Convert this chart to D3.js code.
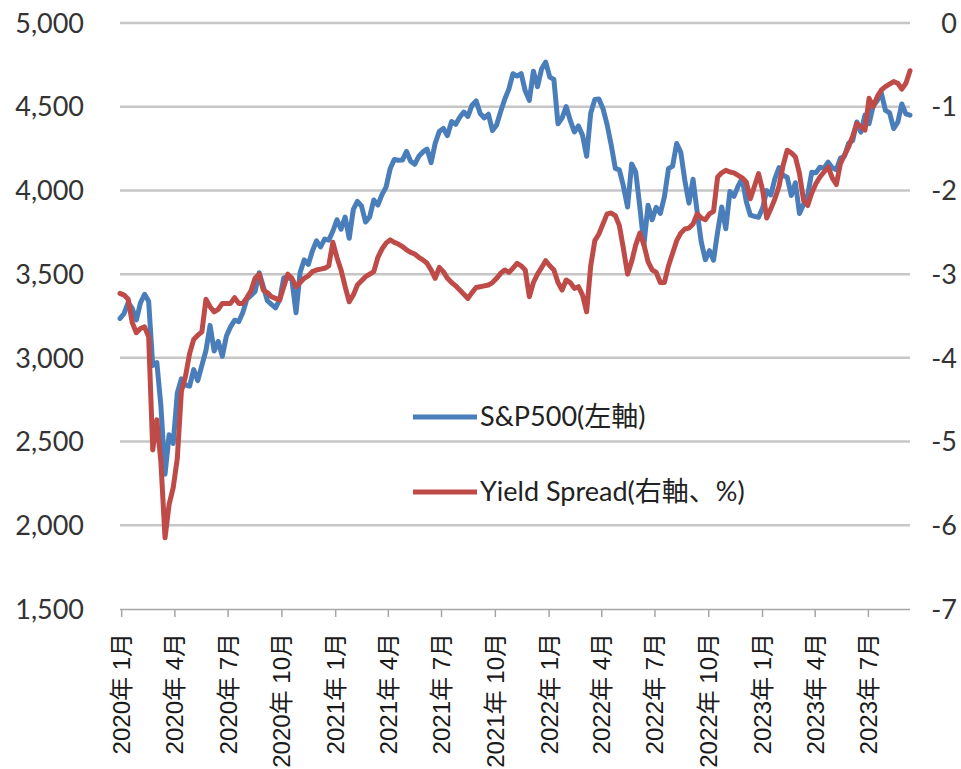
<!DOCTYPE html>
<html><head><meta charset="utf-8">
<script src="https://cdn.jsdelivr.net/npm/d3@7/dist/d3.min.js"></script>
<style>
html,body{margin:0;padding:0;background:#fff;}
svg{display:block;}
</style></head>
<body>
<svg id="chart" width="961" height="769"></svg>
<script>
// Weekly observations (week starting Monday 2019-12-30)
const firstWeek = "2019-12-30";
const sp500 = [
// 2020
3235,3265,3330,3295,3226,3328,3380,3338,2954,2972,2711,2305,2541,2489,2790,2875,2837,2831,2930,2864,
2955,3044,3194,3041,3098,3009,3130,3185,3225,3216,3271,3351,3373,3397,3508,3427,3341,3319,3298,3348,
3477,3484,3465,3270,3510,3585,3558,3638,3699,3663,3709,3703,3756,
// 2021
3825,3768,3841,3714,3887,3934,3907,3811,3842,3943,3913,3975,4020,4129,4185,4180,4181,4233,4174,4156,
4204,4230,4247,4166,4281,4352,4370,4327,4412,4395,4437,4468,4442,4509,4535,4459,4433,4455,4357,4391,
4471,4545,4605,4697,4683,4698,4595,4538,4712,4620,4726,4766,
// 2022
4677,4663,4398,4432,4501,4418,4349,4385,4329,4204,4463,4543,4546,4488,4393,4272,4132,4123,4024,3901,
4158,4109,3901,3675,3912,3825,3899,3863,3962,4130,4145,4280,4228,4058,3924,4067,3873,3693,3586,3640,
3583,3753,3901,3771,3993,3965,4026,4072,3934,3852,3845,3840,
// 2023
3895,3999,3973,4071,4136,4090,4079,3970,4046,3862,3917,3971,4109,4105,4138,4133,4169,4136,4124,4192,
4205,4282,4299,4409,4348,4450,4399,4505,4536,4582,4478,4464,4370,4406,4516,4457,4450
];
const yieldSpread = [
// i0-19
-3.23,-3.25,-3.30,-3.58,-3.70,-3.65,-3.63,-3.75,-5.10,-4.74,-5.25,-6.15,-5.75,-5.55,-5.20,-4.40,-4.22,-3.95,-3.78,-3.73,
// i20-39
-3.69,-3.30,-3.39,-3.45,-3.42,-3.35,-3.35,-3.35,-3.28,-3.35,-3.35,-3.28,-3.20,-3.05,-3.00,-3.19,-3.22,-3.27,-3.29,-3.31,
// i40-59
-3.15,-3.00,-3.05,-3.15,-3.10,-3.05,-3.02,-2.97,-2.95,-2.94,-2.93,-2.90,-2.62,-2.80,-2.95,-3.15,-3.33,-3.25,-3.13,-3.08,
// i60-79
-3.03,-3.00,-2.97,-2.80,-2.70,-2.63,-2.59,-2.62,-2.64,-2.67,-2.71,-2.74,-2.76,-2.80,-2.83,-2.87,-2.95,-3.05,-2.92,-2.97,
// i80-99
-3.05,-3.10,-3.14,-3.19,-3.24,-3.29,-3.22,-3.16,-3.15,-3.14,-3.13,-3.10,-3.05,-2.99,-2.95,-2.98,-2.93,-2.87,-2.90,-2.95,
// i100-119
-3.27,-3.10,-3.00,-2.92,-2.84,-2.90,-2.95,-3.10,-3.19,-3.07,-3.10,-3.17,-3.15,-3.25,-3.45,-2.90,-2.60,-2.52,-2.40,-2.28,
// i120-139
-2.27,-2.30,-2.42,-2.70,-3.00,-2.85,-2.65,-2.51,-2.65,-2.85,-2.95,-2.98,-3.10,-3.10,-2.90,-2.75,-2.60,-2.51,-2.46,-2.45,
// i140-159
-2.40,-2.28,-2.33,-2.35,-2.28,-2.25,-1.84,-1.79,-1.76,-1.78,-1.79,-1.82,-1.85,-1.90,-2.10,-1.95,-1.80,-2.00,-2.33,-2.22,
// i160-179
-2.10,-1.95,-1.70,-1.52,-1.55,-1.60,-1.80,-2.12,-2.18,-2.03,-1.92,-1.84,-1.78,-1.72,-1.85,-1.93,-1.68,-1.58,-1.48,-1.35,
// i180-193
-1.20,-1.24,-1.28,-0.90,-1.00,-0.88,-0.80,-0.76,-0.73,-0.70,-0.72,-0.79,-0.72,-0.57
];
const leftTicks = [1500,2000,2500,3000,3500,4000,4500,5000];
const rightTicks = [0,-1,-2,-3,-4,-5,-6,-7];
const xTickDates = ["2020-01-01","2020-04-01","2020-07-01","2020-10-01","2021-01-01","2021-04-01","2021-07-01","2021-10-01",
  "2022-01-01","2022-04-01","2022-07-01","2022-10-01","2023-01-01","2023-04-01","2023-07-01"];
const xTickLabels = ["2020年 1月","2020年 4月","2020年 7月","2020年 10月","2021年 1月","2021年 4月","2021年 7月","2021年 10月",
  "2022年 1月","2022年 4月","2022年 7月","2022年 10月","2023年 1月","2023年 4月","2023年 7月"];
const seriesNames = ["S&P500(左軸)","Yield Spread(右軸、%)"];
const seriesColors = ["#4a7ebb","#be4b48"];

const parse = d3.timeParse("%Y-%m-%d");
const start = parse(firstWeek);
const dates = sp500.map((_, i) => d3.timeDay.offset(start, 7 * i));

const svg = d3.select("#chart");
const L = 120, R = 910, T = 23, B = 609;

const x = d3.scaleTime().domain([dates[0], dates[dates.length - 1]]).range([L, R]);
const yL = d3.scaleLinear().domain([1500, 5000]).range([B, T]);
const yR = d3.scaleLinear().domain([-7, 0]).range([B, T]);

// gridlines
svg.append("g").selectAll("line").data(leftTicks.filter(d => d > 1500)).join("line")
  .attr("x1", L).attr("x2", R)
  .attr("y1", d => yL(d)).attr("y2", d => yL(d))
  .attr("stroke", "#c6c6c6").attr("stroke-width", 2.5);

// left axis labels
const axL = svg.append("g").attr("transform", `translate(${L},0)`)
  .call(d3.axisLeft(yL).tickValues(leftTicks).tickSize(0).tickPadding(36).tickFormat(d3.format(",")));
axL.select(".domain").remove();
axL.selectAll("text").attr("font-family", "Lato, 'Open Sans', sans-serif").attr("font-size", 27)
  .attr("fill", "#333").attr("dy", "0.34em");

// right axis labels
const axR = svg.append("g").attr("transform", `translate(${R},0)`)
  .call(d3.axisRight(yR).tickValues(rightTicks).tickSize(0).tickPadding(0).tickFormat(d => String(d)));
axR.select(".domain").remove();
axR.selectAll("text").attr("font-family", "Lato, 'Open Sans', sans-serif").attr("font-size", 27)
  .attr("fill", "#333").attr("text-anchor", "end").attr("x", 47).attr("dy", "0.34em");

// x axis
const tickDates = xTickDates.map(parse);
const axB = svg.append("g").attr("transform", `translate(0,${B})`)
  .call(d3.axisBottom(x).tickValues(tickDates).tickSize(8).tickSizeOuter(0)
    .tickFormat((d, i) => xTickLabels[i]));
axB.select(".domain").attr("stroke", "#a6a6a6").attr("stroke-width", 1.5).attr("d", `M${L},0.5H${R}`);
axB.selectAll(".tick line").attr("stroke", "#a6a6a6").attr("stroke-width", 1.5);
axB.selectAll(".tick text")
  .attr("font-family", "'Liberation Sans', Arial, 'Noto Sans CJK JP', sans-serif")
  .attr("font-size", 24).attr("fill", "#1a1a1a")
  .attr("text-anchor", "end").attr("transform", "rotate(-90)")
  .attr("x", -24).attr("y", 0).attr("dy", "0.35em");

// lines
const lineL = d3.line().x((d, i) => x(dates[i])).y(d => yL(d)).curve(d3.curveLinear);
const lineR = d3.line().x((d, i) => x(dates[i])).y(d => yR(d)).curve(d3.curveLinear);
svg.append("path").datum(sp500).attr("d", lineL).attr("fill", "none")
  .attr("stroke", seriesColors[0]).attr("stroke-width", 5).attr("stroke-linejoin", "round").attr("stroke-linecap", "round");
svg.append("path").datum(yieldSpread).attr("d", lineR).attr("fill", "none")
  .attr("stroke", seriesColors[1]).attr("stroke-width", 5).attr("stroke-linejoin", "round").attr("stroke-linecap", "round");

// legend
const legY = [417, 492];
const leg = svg.append("g");
seriesNames.forEach((name, i) => {
  leg.append("line").attr("x1", 413).attr("x2", 477).attr("y1", legY[i]).attr("y2", legY[i])
    .attr("stroke", seriesColors[i]).attr("stroke-width", 5);
  leg.append("text").attr("x", 480).attr("y", legY[i]).attr("dy", "0.35em")
    .attr("font-family", "Lato, 'Noto Sans CJK JP', sans-serif").attr("font-size", 27).attr("fill", "#222")
    .text(name);
});
</script>
</body></html>
